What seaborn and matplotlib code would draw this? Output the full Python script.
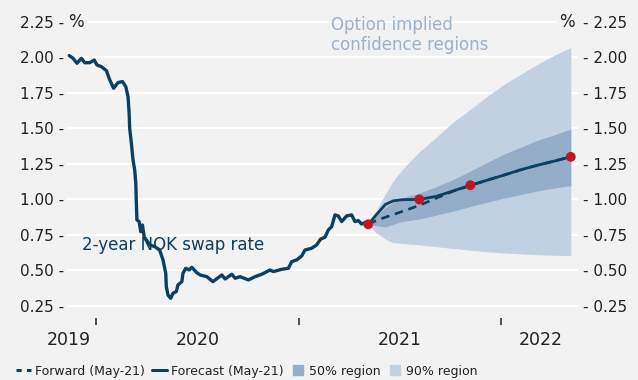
import matplotlib
matplotlib.use("Agg")
import matplotlib.pyplot as plt
import matplotlib.dates as mdates
from matplotlib.lines import Line2D
import pandas as pd
import seaborn as sns

# 2-year NOK swap rate, history (%)
hist_dates = [
    "2019-11-14", "2019-11-21", "2019-11-28", "2019-12-06", "2019-12-12", "2019-12-21",
    "2019-12-29", "2020-01-03", "2020-01-11", "2020-01-20", "2020-01-26", "2020-02-02",
    "2020-02-10", "2020-02-18", "2020-02-24", "2020-02-28", "2020-03-01", "2020-03-02",
    "2020-03-05", "2020-03-08", "2020-03-11", "2020-03-13", "2020-03-14", "2020-03-15",
    "2020-03-19", "2020-03-22", "2020-03-25", "2020-03-28", "2020-04-01", "2020-04-07",
    "2020-04-16", "2020-04-25", "2020-05-01", "2020-05-06", "2020-05-07", "2020-05-10",
    "2020-05-15", "2020-05-19", "2020-05-25", "2020-05-28", "2020-06-04", "2020-06-06",
    "2020-06-11", "2020-06-17", "2020-06-22", "2020-07-01", "2020-07-07", "2020-07-19",
    "2020-07-30", "2020-08-15", "2020-08-21", "2020-09-02", "2020-09-08", "2020-09-17",
    "2020-10-02", "2020-10-14", "2020-10-26", "2020-11-10", "2020-11-16", "2020-12-01",
    "2020-12-13", "2020-12-19", "2020-12-28", "2021-01-06", "2021-01-12", "2021-01-24",
    "2021-02-02", "2021-02-09", "2021-02-17", "2021-02-23", "2021-03-01", "2021-03-07",
    "2021-03-13", "2021-03-19", "2021-03-28", "2021-04-06", "2021-04-12", "2021-04-18",
    "2021-04-24", "2021-04-30", "2021-05-06",
]
hist_rate = [
    2.013, 1.994, 1.959, 1.994, 1.963, 1.963,
    1.982, 1.947, 1.935, 1.907, 1.842, 1.783,
    1.823, 1.830, 1.794, 1.724, 1.607, 1.501,
    1.396, 1.278, 1.208, 1.114, 0.973, 0.856,
    0.844, 0.773, 0.820, 0.738, 0.715, 0.680,
    0.668, 0.644, 0.574, 0.480, 0.386, 0.327,
    0.304, 0.339, 0.351, 0.398, 0.421, 0.480,
    0.515, 0.503, 0.522, 0.484, 0.468, 0.456,
    0.421, 0.468, 0.440, 0.473, 0.445, 0.456,
    0.433, 0.456, 0.473, 0.503, 0.492, 0.508,
    0.515, 0.562, 0.574, 0.602, 0.644, 0.656,
    0.680, 0.720, 0.734, 0.785, 0.808, 0.891,
    0.884, 0.844, 0.884, 0.891, 0.844, 0.851,
    0.827, 0.837, 0.825,
]

# Forecast horizon (May-21 report)
fan_dates = [
    "2021-05-06", "2021-05-20", "2021-06-06", "2021-06-20", "2021-07-06",
    "2021-08-06", "2021-09-06", "2021-10-06", "2021-11-06", "2021-12-06",
    "2022-01-06", "2022-02-06", "2022-03-06", "2022-04-06", "2022-05-06",
]
forecast = [0.825, 0.890, 0.965, 0.990, 0.998, 1.000, 1.022, 1.060, 1.100, 1.135,
            1.172, 1.210, 1.240, 1.270, 1.300]
forward = [0.825, 0.850, 0.875, 0.893, 0.915, 0.958, 1.010, 1.058, 1.098, 1.135,
           1.172, 1.210, 1.240, 1.270, 1.300]
lo90 = [0.825, 0.765, 0.720, 0.695, 0.690, 0.680, 0.667, 0.655, 0.642, 0.632,
        0.623, 0.616, 0.611, 0.607, 0.604]
hi90 = [0.825, 0.920, 1.040, 1.130, 1.210, 1.335, 1.440, 1.545, 1.635, 1.725,
        1.810, 1.885, 1.950, 2.015, 2.070]
lo50 = [0.825, 0.815, 0.805, 0.825, 0.845, 0.862, 0.890, 0.918, 0.950, 0.980,
        1.010, 1.035, 1.060, 1.080, 1.097]
hi50 = [0.825, 0.885, 0.945, 0.980, 1.010, 1.045, 1.090, 1.140, 1.200, 1.260,
        1.320, 1.370, 1.415, 1.455, 1.495]
# Forecast points highlighted: 0, 3, 6 and 12 months ahead
marker_idx = [0, 5, 8, 14]

y_ticks = [0.25, 0.50, 0.75, 1.00, 1.25, 1.50, 1.75, 2.00, 2.25]
year_labels = ["2019", "2020", "2021", "2022"]
year_label_dates = ["2019-11-13", "2020-07-02", "2021-07-01", "2022-03-13"]
year_starts = ["2020-01-01", "2021-01-01", "2022-01-01"]

NAVY = "#0b3f63"
RED = "#c0161f"
C50 = "#94adc8"
C90 = "#c1d1e1"
BG = "#f2f2f2"
INK = "#222222"

sns.set_theme(style="white", rc={
    "axes.facecolor": BG,
    "figure.facecolor": BG,
    "grid.color": "white",
    "grid.linewidth": 1.6,
})
plt.rcParams["font.family"] = ["DejaVu Sans"]

hist = pd.DataFrame({"date": pd.to_datetime(hist_dates), "rate": hist_rate})
proj = pd.DataFrame({
    "date": pd.to_datetime(fan_dates),
    "forecast": forecast, "forward": forward,
    "lo90": lo90, "hi90": hi90, "lo50": lo50, "hi50": hi50,
})
dots = proj.iloc[marker_idx]

fig = plt.figure(figsize=(6.38, 3.80), dpi=100)
ax = fig.add_axes([67 / 638, 1 - 318 / 380, 511 / 638, 306 / 380])
ax.set_axisbelow(True)

ax.fill_between(proj["date"], proj["lo90"], proj["hi90"], color=C90, lw=0, zorder=1)
ax.fill_between(proj["date"], proj["lo50"], proj["hi50"], color=C50, lw=0, zorder=1.5)

ax.text(mdates.datestr2num("2019-12-07"), 0.68, "2-year NOK swap rate",
        color=NAVY, fontsize=12, ha="left", va="center", zorder=2)

sns.lineplot(data=hist, x="date", y="rate", color=NAVY, lw=2.4, ax=ax, zorder=3)
sns.lineplot(data=proj, x="date", y="forward", color=NAVY, lw=1.9, ax=ax, zorder=3,
             dashes=False, linestyle=(0, (3.2, 2.2)))
sns.lineplot(data=proj, x="date", y="forecast", color=NAVY, lw=2.0, ax=ax, zorder=3.5)
sns.scatterplot(data=dots, x="date", y="forecast", color=RED, s=50, edgecolor="none",
                ax=ax, zorder=5)

ax.set_xlim(mdates.datestr2num("2019-11-10"), mdates.datestr2num("2022-05-19"))
ax.set_ylim(0.165, 2.32)
ax.set_xlabel("")
ax.set_ylabel("")
for s in ax.spines.values():
    s.set_visible(False)

ax.grid(axis="y")
ax.grid(axis="x", visible=False)
ax.set_yticks(y_ticks)
ax.set_yticklabels([f"{v:.2f} -" for v in y_ticks])
ax.tick_params(axis="y", length=0, pad=2, labelsize=11, labelcolor=INK)

ax.set_xticks([mdates.datestr2num(d) for d in year_starts])
ax.set_xticklabels([""] * len(year_starts))
ax.set_xticks([mdates.datestr2num(d) for d in year_label_dates], minor=True)
ax.set_xticklabels(year_labels, minor=True)
ax.tick_params(axis="x", which="major", direction="out", length=5, width=1.2,
               color="#333333", bottom=True)
ax.tick_params(axis="x", which="minor", length=0, pad=9.5, labelsize=12.5,
               labelcolor=INK)

axr = ax.twinx()
axr.set_ylim(ax.get_ylim())
axr.set_yticks(y_ticks)
axr.set_yticklabels([f"- {v:.2f}" for v in y_ticks])
axr.tick_params(axis="y", length=0, pad=3.5, labelsize=11, labelcolor=INK)
axr.grid(False)
for s in axr.spines.values():
    s.set_visible(False)

ax.annotate("%", xy=(0, 2.25), xycoords=("axes fraction", "data"),
            xytext=(1, 0), textcoords="offset points", ha="left", va="center",
            fontsize=12, color=INK, zorder=6,
            bbox=dict(boxstyle="square,pad=0.15", fc=BG, ec="none"))
ax.annotate("%", xy=(1, 2.25), xycoords=("axes fraction", "data"),
            xytext=(-2, 0), textcoords="offset points", ha="right", va="center",
            fontsize=12, color=INK, zorder=6,
            bbox=dict(boxstyle="square,pad=0.15", fc=BG, ec="none"))

ax.text(mdates.datestr2num("2021-02-28"), 2.29, "Option implied\nconfidence regions",
        color="#9ab2cc", fontsize=12, ha="left", va="top", linespacing=1.15, zorder=2)

handles = [
    Line2D([], [], color=NAVY, lw=2.2, linestyle=(0, (1.7, 1.7))),
    Line2D([], [], color=NAVY, lw=2.2),
    Line2D([], [], marker="s", linestyle="none", markersize=6.5, color=C50),
    Line2D([], [], marker="s", linestyle="none", markersize=6.5, color=C90),
]
labels = ["Forward (May-21)", "Forecast (May-21)", "50% region", "90% region"]
fig.legend(handles, labels, loc="center left", bbox_to_anchor=(0.008, 1 - 371 / 380),
           ncol=4, frameon=False, fontsize=9, handlelength=1.2, handletextpad=0.3,
           columnspacing=0.55, labelcolor=INK)

fig.savefig("out.png", dpi=100, facecolor=BG)
